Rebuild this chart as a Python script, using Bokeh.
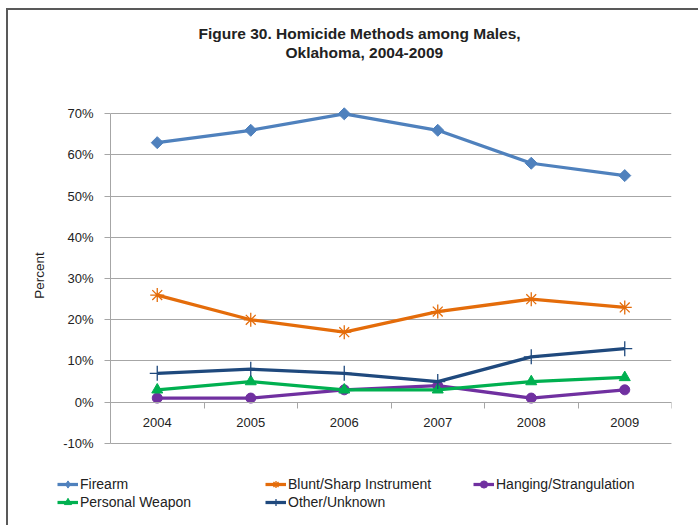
from bokeh.plotting import figure
from bokeh.models import (FixedTicker, PrintfTickFormatter, Range1d, Legend,
                          LegendItem, Title, LinearAxis)
from bokeh.embed import file_html
from bokeh.resources import INLINE
import math

years = [2004, 2005, 2006, 2007, 2008, 2009]
firearm = [63, 66, 70, 66, 58, 55]
blunt = [26, 20, 17, 22, 25, 23]
hanging = [1, 1, 3, 4, 1, 3]
personal = [3, 5, 3, 3, 5, 6]
other = [7, 8, 7, 5, 11, 13]
y_ticks = [-10, 0, 10, 20, 30, 40, 50, 60, 70]
series_names = ["Firearm", "Blunt/Sharp Instrument", "Hanging/Strangulation",
                "Personal Weapon", "Other/Unknown"]
title1 = "Figure  30. Homicide Methods among Males,"
title2 = "Oklahoma, 2004-2009"

FONT = "Liberation Sans"
GRID = "#A6A6A6"
TXT = "#222222"

# ---------------- main chart ----------------
y_lo, y_hi = y_ticks[0] - 1.0, y_ticks[-1] + 2.5
p = figure(width=692, height=467, output_backend="svg", toolbar_location=None,
           x_range=Range1d(years[0] - 0.5, years[-1] + 0.5),
           y_range=Range1d(y_lo, y_hi),
           min_border_left=102, min_border_right=29,
           min_border_top=93, min_border_bottom=30)
p.title = None
p.styles = {"margin-left": "6px", "margin-top": "8px",
            "border-left": "2px solid #595959", "border-top": "2px solid #595959"}
p.outline_line_color = None
p.background_fill_color = "white"
p.border_fill_color = "white"

p.xgrid.grid_line_color = None
p.ygrid.ticker = FixedTicker(ticks=y_ticks)
p.ygrid.grid_line_color = GRID
p.ygrid.grid_line_width = 1

ya = p.yaxis[0]
ya.ticker = FixedTicker(ticks=y_ticks)
ya.bounds = (y_ticks[0], y_ticks[-1])
ya.formatter = PrintfTickFormatter(format="%d%%")
ya.axis_line_color = GRID
ya.major_tick_line_color = GRID
ya.major_tick_out = 6
ya.major_tick_in = 0
ya.minor_tick_line_color = None
ya.major_label_text_font = FONT
ya.major_label_text_font_size = "13px"
ya.major_label_text_color = TXT
ya.major_label_standoff = 11
ya.axis_label = "Percent"
ya.axis_label_text_font = FONT
ya.axis_label_text_font_size = "13.5px"
ya.axis_label_text_font_style = "normal"
ya.axis_label_text_color = TXT
ya.axis_label_standoff = 13

xa = p.xaxis[0]
xa.ticker = FixedTicker(ticks=years,
                        minor_ticks=[y - 0.5 for y in years] + [years[-1] + 0.5])
xa.fixed_location = 0
xa.formatter = PrintfTickFormatter(format="%d")
xa.axis_line_color = GRID
xa.major_tick_line_color = None
xa.major_tick_out = 0
xa.major_tick_in = 0
xa.minor_tick_line_color = GRID
xa.minor_tick_out = 6
xa.minor_tick_in = 0
xa.major_label_text_font = FONT
xa.major_label_text_font_size = "13px"
xa.major_label_text_color = TXT
xa.major_label_standoff = 10

# bottom (-10%) gridline, drawn as a tick-less axis line so it is never clipped
base = LinearAxis(fixed_location=y_ticks[0], ticker=FixedTicker(ticks=[]),
                  axis_line_color=GRID, axis_line_width=1,
                  major_tick_line_color=None, minor_tick_line_color=None,
                  major_label_standoff=0)
p.add_layout(base, "below")

series = [
    (firearm, "#4F81BD", "square", 8.5, 1, math.pi / 4, "diamond"),
    (blunt, "#E46C0A", "asterisk", 14, 1.3, 0, "asterisk"),
    (hanging, "#7030A0", "circle", 10, 1, 0, "circle"),
    (personal, "#00B050", "triangle", 11, 1, 0, "triangle"),
    (other, "#1F497D", "cross", 15, 1.3, 0, "cross"),
]

for vals, color, marker, size, mlw, ang, _ in series:
    p.line(years, vals, line_color=color, line_width=3.25)
    p.scatter(years, vals, marker=marker, size=size, angle=ang,
              line_color=color, fill_color=color, line_width=mlw)

# titles stack upward from the frame: spacer, second line, first line
p.add_layout(Title(text=" ", text_font=FONT, text_font_size="10px",
                   standoff=30), "above")
p.add_layout(Title(text=title2, align="left", offset=175, text_font=FONT,
                   text_font_size="15.5px", text_font_style="bold",
                   text_color=TXT, standoff=0), "above")
p.add_layout(Title(text=title1, align="left", offset=88, text_font=FONT,
                   text_font_size="15.5px", text_font_style="bold",
                   text_color=TXT, standoff=0), "above")

# ---------------- legend strip (separate root, no frame alignment) ----------
lg = figure(width=692, height=50, output_backend="svg", toolbar_location=None,
            x_range=Range1d(0, 1), y_range=Range1d(0, 1),
            x_axis_type=None, y_axis_type=None,
            min_border_left=0, min_border_right=0,
            min_border_top=0, min_border_bottom=0)
lg.title = None
lg.styles = {"margin-left": "6px", "border-left": "2px solid #595959"}
lg.outline_line_color = None
lg.xgrid.visible = False
lg.ygrid.visible = False
lg.background_fill_color = "white"
lg.border_fill_color = "white"

items = []
for name, (vals, color, marker, size, mlw, ang, lmarker) in zip(series_names, series):
    ln = lg.line(years, vals, line_color=color, line_width=3.25)
    sc = lg.scatter(years, vals, marker=lmarker, line_color=color,
                    fill_color=color, line_width=mlw)
    items.append(LegendItem(label=name, renderers=[ln, sc]))

legend = Legend(items=items, location=(49, 14), orientation="horizontal",
                ncols=3, spacing=0, padding=0, margin=0,
                glyph_width=21, glyph_height=18, label_height=18,
                label_width=185, label_standoff=2,
                label_text_font=FONT, label_text_font_size="14px",
                label_text_color=TXT, border_line_color=None,
                background_fill_alpha=0)
lg.add_layout(legend)

open("out.html", "w").write(file_html([p, lg], INLINE))
